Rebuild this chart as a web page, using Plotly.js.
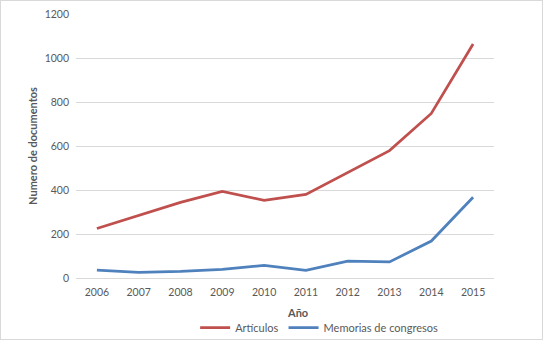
<!DOCTYPE html>
<html><head><meta charset="utf-8">
<script src="https://cdn.plot.ly/plotly-3.0.1.min.js"></script>
<style>
html,body{margin:0;padding:0;background:#fff;}
#chart{width:541px;height:338px;border:1px solid #d9d9d9;}
</style></head>
<body><div id="chart"></div>
<script>
const years = ["2006","2007","2008","2009","2010","2011","2012","2013","2014","2015"];
const articulos = [225, 286, 344, 394, 353, 380, 480, 579, 748, 1064];
const memorias = [36, 26, 30, 39, 57, 35, 77, 73, 168, 367];
const seriesNames = ["Artículos", "Memorias de congresos"];
const yTicks = [0, 200, 400, 600, 800, 1000, 1200];
const xTitle = "Año";
const yTitle = "Numero de documentos";

const font = "Lato, 'Open Sans', sans-serif";
const traces = [
  {x: years, y: articulos, name: seriesNames[0], type: "scatter", mode: "lines",
   line: {color: "#C0504D", width: 2.75}},
  {x: years, y: memorias, name: seriesNames[1], type: "scatter", mode: "lines",
   line: {color: "#4F81BD", width: 2.75}}
];
const layout = {
  width: 541, height: 338,
  margin: {l: 75, r: 48, t: 13, b: 61},
  paper_bgcolor: "#fff", plot_bgcolor: "#fff",
  font: {family: font, size: 10, color: "#595959"},
  showlegend: true,
  legend: {orientation: "h", xref: "paper", x: 0.285, xanchor: "left",
    yref: "container", y: 0.034, yanchor: "middle",
    font: {family: font, size: 11, color: "#595959"}, traceorder: "normal"},
  xaxis: {type: "category", range: [-0.5, 9.5], showgrid: false, zeroline: false,
    showline: false, ticks: "", ticklabelstandoff: 6, tickfont: {size: 10.5, color: "#595959"},
    title: {text: ""}},
  yaxis: {range: [0, 1200], tickvals: yTicks, showgrid: true, gridcolor: "#d9d9d9", gridwidth: 1,
    zeroline: true, zerolinecolor: "#d9d9d9", zerolinewidth: 1, showline: false, ticks: "",
    ticklabelstandoff: 6, tickfont: {size: 10.5, color: "#595959"},
    title: {text: yTitle, font: {family: font, size: 11, color: "#595959", weight: "bold"}, standoff: 4}},
  annotations: [{text: "<b>" + xTitle + "</b>", xref: "paper", yref: "paper", x: 0.53, y: -0.129,
    xanchor: "center", yanchor: "middle", showarrow: false,
    font: {family: font, size: 11, color: "#595959"}}]
};
Plotly.newPlot("chart", traces, layout, {displayModeBar: false, staticPlot: true});
</script></body></html>
